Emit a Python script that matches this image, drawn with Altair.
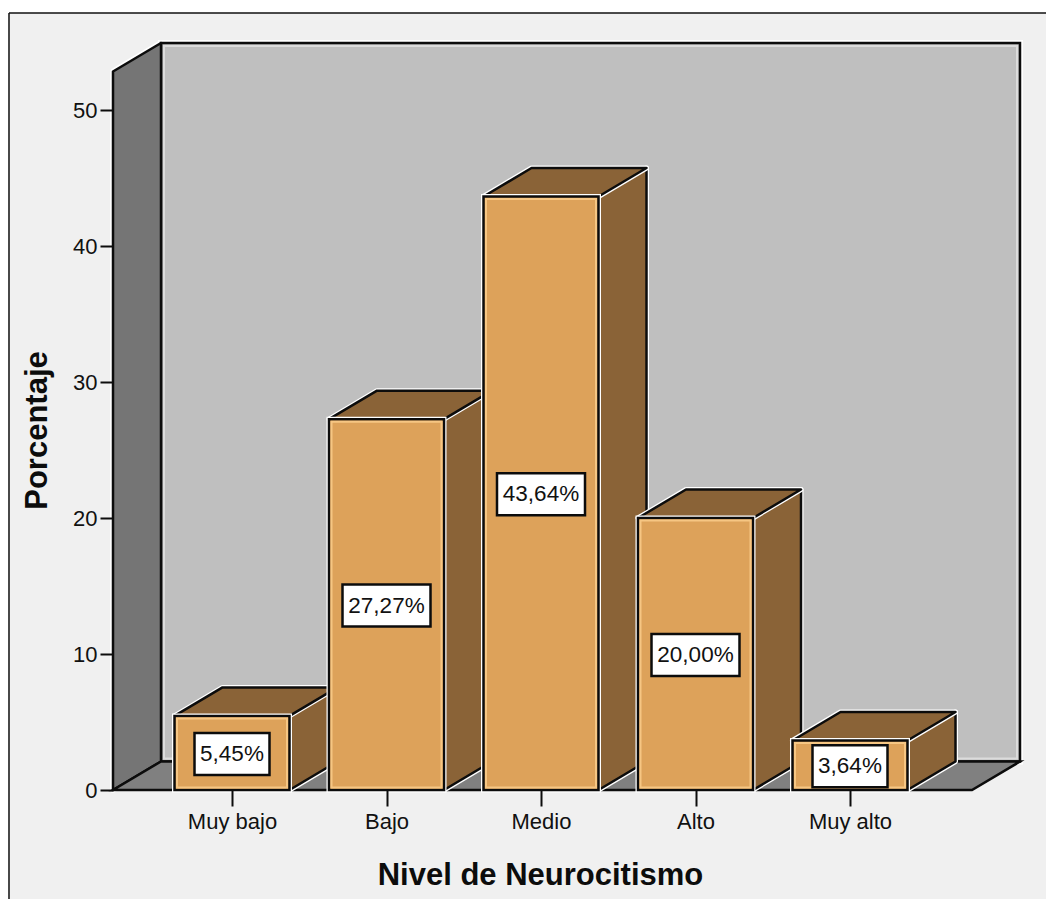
import altair as alt
import pandas as pd

categories = ["Muy bajo", "Bajo", "Medio", "Alto", "Muy alto"]
values = [5.45, 27.27, 43.64, 20.00, 3.64]
labels = ["5,45%", "27,27%", "43,64%", "20,00%", "3,64%"]
y_ticks = [0, 10, 20, 30, 40, 50]

W, H = 907, 747
PX_X = 154.5            # pixels per category
PX_Y = 13.6             # pixels per percent
X0 = 1 - 119 / PX_X
X1 = X0 + W / PX_X
Y1 = H / PX_Y
DX = 48 / PX_X          # depth of the 3-D projection
DY = 28.5 / PX_Y
BAR = 115 / PX_X
WALL_TOP = Y1 - DY
HPX = 1 / PX_X
VPX = 1 / PX_Y

pos = list(range(1, len(categories) + 1))
FONT = "Liberation Sans"
INK = "#0c0c0c"

xs = alt.Scale(domain=[X0, X1], nice=False, zero=False)
ys = alt.Scale(domain=[0, Y1], nice=False, zero=False)

x_axis = alt.Axis(
    values=pos, grid=False, domain=False, tickSize=16, tickWidth=2, tickColor=INK,
    labelExpr="['Muy bajo','Bajo','Medio','Alto','Muy alto'][datum.value-1]",
    labelFont=FONT, labelFontSize=22, labelColor="#111111", labelPadding=5, labelFlush=False,
    labelOverlap=False, titleFont=FONT, titleFontSize=31, titleFontWeight="bold", titleColor=INK,
    titleX=427, titleY=85, titleBaseline="middle", titleAnchor="middle", titleAlign="center", zindex=1)
y_axis = alt.Axis(
    values=y_ticks, grid=False, domain=False, tickSize=13, tickWidth=2, tickColor=INK,
    labelFont=FONT, labelFontSize=22, labelColor="#111111", labelPadding=3,
    labelFlush=False, labelOverlap=False, titleFont=FONT, titleFontSize=31,
    titleFontWeight="bold", titleColor=INK, titleX=-76, titleY=387, titleAngle=270,
    titleAlign="center", titleBaseline="middle", zindex=1)
X_T = "Nivel de Neurocitismo"
Y_T = "Porcentaje"
X = lambda f: alt.X(f, type="quantitative", scale=xs, axis=x_axis, title=X_T)
Y = lambda f: alt.Y(f, type="quantitative", scale=ys, axis=y_axis, title=Y_T)

fronts = pd.DataFrame({"c": categories, "x": [p - BAR / 2 for p in pos],
                       "x2": [p + BAR / 2 for p in pos], "v": values, "b": [0] * len(values)})
inset = pd.DataFrame({"x": [p - BAR / 2 + 2.5 * HPX for p in pos],
                      "x2": [p + BAR / 2 - 2.5 * HPX for p in pos],
                      "v": [v - 2.5 * VPX for v in values], "b": [2.5 * VPX] * len(values)})

side_rows, top_rows = [], []
for p, c, v in zip(pos, categories, values):
    r = p + BAR / 2
    l = p - BAR / 2
    side_rows += [{"c": c, "x": r, "y": 0, "y2": v}, {"c": c, "x": r + DX, "y": DY, "y2": v + DY}]
    top_rows += [{"c": c, "y": v, "x": l, "x2": r}, {"c": c, "y": v + DY, "x": l + DX, "x2": r + DX}]
sides = pd.DataFrame(side_rows)
tops = pd.DataFrame(top_rows)

wall_l = pd.DataFrame([{"x": X0, "y": 0, "y2": WALL_TOP}, {"x": X0 + DX, "y": DY, "y2": Y1}])
wall_b = pd.DataFrame([{"x": X0 + DX, "x2": X1, "y": DY, "y2": Y1}])
wall_in = pd.DataFrame([{"x": X0 + DX + 3 * HPX, "x2": X1 - 3 * HPX, "y": DY + 3 * VPX, "y2": Y1 - 3 * VPX}])
floor = pd.DataFrame([{"y": 0, "x": X0, "x2": X1 - DX}, {"y": DY, "x": X0 + DX, "x2": X1}])


def side_area(color, sw, stroke):
    return alt.Chart(sides).mark_area(color=color, stroke=stroke, strokeWidth=sw, strokeJoin="round").encode(
        x=X("x"), y=Y("y"), y2="y2", detail="c:N")


def top_area(color, sw, stroke):
    return alt.Chart(tops).mark_area(color=color, stroke=stroke, strokeWidth=sw, strokeJoin="round", orient="horizontal").encode(
        y=Y("y"), x=X("x"), x2="x2", detail="c:N")


def front_rect(color, sw, stroke):
    return alt.Chart(fronts).mark_rect(color=color, stroke=stroke, strokeWidth=sw).encode(
        x=X("x"), x2="x2", y=Y("v"), y2="b")


front_glow = alt.Chart(inset).mark_rect(fill="#dda25a", stroke="#f6c683", strokeWidth=2).encode(
    x=X("x"), x2="x2", y=Y("v"), y2="b")

one = pd.DataFrame({"a": [0]})
frame = alt.Chart(one).mark_rect(color="#f0f0f0").encode(
    x=alt.value(-105), x2=alt.value(933), y=alt.value(-30), y2=alt.value(856))
frame_top = alt.Chart(one).mark_rule(color="#111111", strokeWidth=1.5).encode(
    x=alt.value(-104), x2=alt.value(933), y=alt.value(-30))
frame_left = alt.Chart(one).mark_rule(color="#111111", strokeWidth=1.5).encode(
    x=alt.value(-104), y=alt.value(-30), y2=alt.value(856))

wall_left = lambda c, sw, s: alt.Chart(wall_l).mark_area(color=c, stroke=s, strokeWidth=sw, strokeJoin="round").encode(
    x=X("x"), y=Y("y"), y2="y2")
wall_back = lambda c, sw, s: alt.Chart(wall_b).mark_rect(color=c, stroke=s, strokeWidth=sw).encode(
    x=X("x"), x2="x2", y=Y("y"), y2="y2")
wall_glow = alt.Chart(wall_in).mark_rect(fill="#bfbfbf", stroke="#dcdcdc", strokeWidth=2).encode(
    x=X("x"), x2="x2", y=Y("y"), y2="y2")
floor_area = lambda c, sw, s: alt.Chart(floor).mark_area(color=c, stroke=s, strokeWidth=sw, orient="horizontal").encode(
    y=Y("y"), x=X("x"), x2="x2")

boxes = pd.DataFrame({
    "x": [p - (13 * len(t) + 10) / 2 * HPX for p, t in zip(pos, labels)],
    "x2": [p + (13 * len(t) + 10) / 2 * HPX for p, t in zip(pos, labels)],
    "y": [v / 2 - 22 * VPX for v in values],
    "y2": [v / 2 + 20 * VPX for v in values],
})
box_layer = alt.Chart(boxes).mark_rect(color="#ffffff", stroke=INK, strokeWidth=2.5).encode(
    x=X("x"), x2="x2", y=Y("y"), y2="y2")
text_layer = alt.Chart(pd.DataFrame({"x": pos, "y": [v / 2 - 1 * VPX for v in values], "t": labels})).mark_text(
    font=FONT, fontSize=22.5, color="#111111", align="center", baseline="middle").encode(
    x=X("x"), y=Y("y"), text="t:N")

chart = alt.layer(
    frame, frame_top, frame_left,
    wall_back("#bfbfbf", 6, "#ffffff"), wall_left("#757575", 6, "#ffffff"),
    wall_back("#bfbfbf", 2.5, INK), wall_glow, wall_left("#757575", 2.5, INK),
    floor_area("#808080", 2.5, INK),
    side_area("#8a6337", 5, "#ffffff"), side_area("#8a6337", 2.5, INK),
    top_area("#8a6337", 5, "#ffffff"), top_area("#8a6337", 2.5, INK),
    front_rect("#dda25a", 5, "#ffffff"), front_rect("#dda25a", 2.5, INK), front_glow,
    box_layer, text_layer,
).properties(
    width=W, height=H, background="#ffffff",
    autosize=alt.AutoSizeParams(type="none"),
    padding={"left": 105, "top": 35, "right": 26, "bottom": 109},
).configure_view(stroke=None)

chart.save("out.html", embed_options={"renderer": "svg", "actions": False})
